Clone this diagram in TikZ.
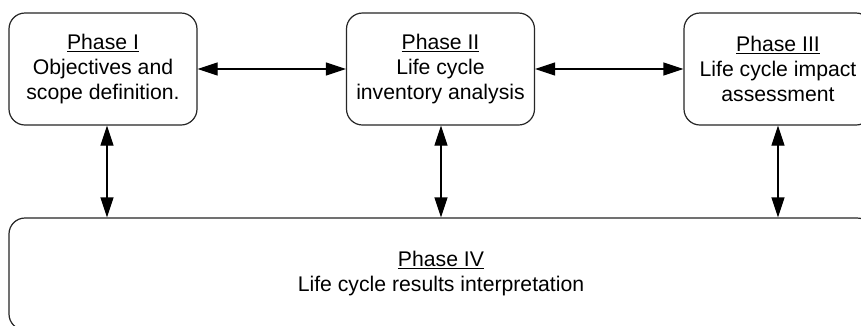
\documentclass[tikz,border=0pt]{standalone}
\usepackage{fontspec}
\setmainfont{Liberation Sans}
\usetikzlibrary{arrows.meta}
\begin{document}
\begin{tikzpicture}[x=1pt,y=-1pt,
  phasebox/.style={draw=black!85, line width=1.2pt, rounded corners=16pt,
    align=center, inner sep=0pt, font=\fontsize{21.2}{25}\selectfont},
  link/.style={line width=1.2pt, {Triangle[length=20pt,width=13pt]}-{Triangle[length=20pt,width=13pt]}}]
  \clip (0,0) rectangle (861,325);
  \fill[white] (0,0) rectangle (861,325);
  % upper row of phases
  \node[phasebox, minimum width=188pt, minimum height=112pt] (p1) at (103,69)
    {\underline{Phase I}\\Objectives and\\scope definition.};
  \node[phasebox, minimum width=188pt, minimum height=112pt] (p2) at (440.5,69)
    {\underline{Phase II}\\Life cycle\\inventory analysis};
  \node[phasebox, minimum width=188pt, minimum height=112pt] (p3) at (778,69)
    {\underline{Phase III}\\Life cycle impact\\assessment};
  % interpretation phase below
  \node[phasebox, minimum width=864pt, minimum height=112pt] (p4) at (441,274)
    {\underline{Phase IV}\\Life cycle results interpretation};
  % horizontal links
  \draw[link] (p1.east) -- (p2.west);
  \draw[link] (p2.east) -- (p3.west);
  % vertical links to Phase IV
  \draw[link] (p1.south -| 107,0) -- (p4.north -| 107,0);
  \draw[link] (p2.south -| 441,0) -- (p4.north -| 441,0);
  \draw[link] (p3.south -| 778,0) -- (p4.north -| 778,0);
\end{tikzpicture}
\end{document}
